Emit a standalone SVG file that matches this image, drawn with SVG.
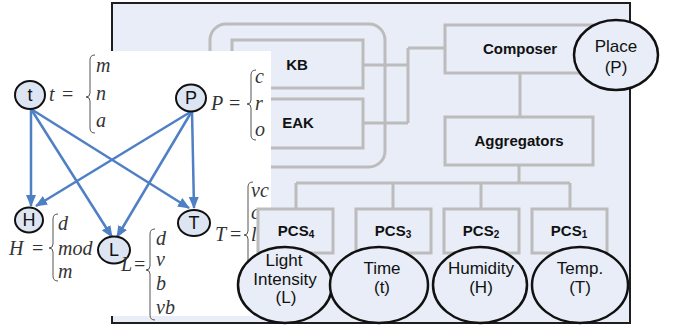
<svg xmlns="http://www.w3.org/2000/svg" width="674" height="328" viewBox="0 0 674 328">
  <defs>
    <marker id="arrow" viewBox="0 0 12 10" refX="11" refY="5" markerWidth="12" markerHeight="10" markerUnits="userSpaceOnUse" orient="auto">
      <path d="M0,0 L12,5 L0,10 z" fill="#4f7fc4"/>
    </marker>
    <style>
      .panel { fill: #e8edf7; stroke: #1e1e1e; stroke-width: 2; }
      .box { fill: #e8edf7; stroke: #bcbcbc; stroke-width: 3; }
      .wire { fill: none; stroke: #bcbcbc; stroke-width: 3; }
      .lbl { font-family: "Liberation Sans", Arial, sans-serif; font-weight: bold; font-size: 15px; fill: #111; text-anchor: middle; }
      .sub { font-size: 10px; }
      .sensor { fill: #e8edf7; stroke: #111; stroke-width: 2.5; }
      .stxt { font-family: "Liberation Sans", Arial, sans-serif; font-size: 17px; fill: #111; text-anchor: middle; }
      .node { fill: #dde5f3; stroke: #111; stroke-width: 2; }
      .ntxt { font-family: "Liberation Sans", Arial, sans-serif; font-size: 18px; fill: #111; text-anchor: middle; }
      .edge { fill: none; stroke: #4f7fc4; stroke-width: 2.5; marker-end: url(#arrow); }
      .math { font-family: "Liberation Serif", "Times New Roman", serif; font-size: 20px; fill: #333; }
      .v { font-style: italic; }
      .brace { fill: none; stroke: #555; stroke-width: 1; }
    </style>
  </defs>

  <!-- architecture panel -->
  <rect class="panel" x="112" y="3" width="518" height="320"/>

  <g id="knowledge-group">
    <rect class="wire" x="210" y="24" width="175" height="143" rx="16"/>
  </g>
  <g id="kb">
    <rect class="box" x="232" y="40" width="131" height="48"/>
    <text class="lbl" x="297" y="70">KB</text>
  </g>
  <g id="eak">
    <rect class="box" x="232" y="99" width="131" height="49"/>
    <text class="lbl" x="298" y="128">EAK</text>
  </g>

  <g id="connectors">
    <path class="wire" d="M363,65 H408 M363,123 H408 M408,48 V123 M408,48 H445"/>
    <path class="wire" d="M520,73 V117"/>
    <path class="wire" d="M519,165 V183 M296,183 H570 M296,183 V209 M393,183 V209 M481,183 V209 M570,183 V209"/>
  </g>

  <g id="composer">
    <rect class="box" x="445" y="25" width="150" height="48"/>
    <text class="lbl" x="520" y="54">Composer</text>
  </g>
  <g id="aggregators">
    <rect class="box" x="445" y="117" width="148" height="48"/>
    <text class="lbl" x="519" y="146">Aggregators</text>
  </g>
  <g id="place">
    <ellipse class="sensor" cx="616" cy="55" rx="42" ry="35"/>
    <text class="stxt" x="616" y="52">Place</text>
    <text class="stxt" x="616" y="73">(P)</text>
  </g>

  <!-- dependency graph sheet -->
  <rect x="0" y="51" width="271" height="265" fill="#ffffff"/>

  <g id="edges">
    <path class="edge" d="M31,109 L31,206"/>
    <path class="edge" d="M31,109 L112,237"/>
    <path class="edge" d="M31,109 L189,208"/>
    <path class="edge" d="M192,111 L36,206"/>
    <path class="edge" d="M192,111 L117,237"/>
    <path class="edge" d="M192,111 L194,208"/>
  </g>

  <g id="node-t">
    <ellipse class="node" cx="30" cy="95" rx="15" ry="14"/>
    <text class="ntxt" x="30" y="101">t</text>
    <text class="math" y="101"><tspan class="v" x="49">t</tspan><tspan x="62">=</tspan></text>
    <path class="brace" d="M95,55 Q90,55 90,60 L90,93 Q90,97 86,97 Q90,97 90,101 L90,128 Q90,133 95,133"/>
    <text class="math v" x="96" y="72">m</text>
    <text class="math v" x="96" y="100">n</text>
    <text class="math v" x="96" y="127">a</text>
  </g>

  <g id="node-P">
    <ellipse class="node" cx="191" cy="98" rx="15" ry="13.5"/>
    <text class="ntxt" x="191" y="104">P</text>
    <text class="math" y="110"><tspan class="v" x="211">P</tspan><tspan x="229">=</tspan></text>
    <path class="brace" d="M256,70 Q251,70 251,75 L251,100 Q251,104 247,104 Q251,104 251,108 L251,135 Q251,140 256,140"/>
    <text class="math v" x="255" y="83">c</text>
    <text class="math v" x="255" y="110">r</text>
    <text class="math v" x="255" y="136">o</text>
  </g>

  <g id="node-H">
    <ellipse class="node" cx="29" cy="220" rx="14" ry="12.5"/>
    <text class="ntxt" x="29" y="226">H</text>
    <text class="math" y="255"><tspan class="v" x="9">H</tspan><tspan x="32">=</tspan></text>
    <path class="brace" d="M58,214 Q53,214 53,219 L53,244 Q53,248 49,248 Q53,248 53,252 L53,276 Q53,281 58,281"/>
    <text class="math v" x="58" y="230">d</text>
    <text class="math v" x="58" y="255">mod</text>
    <text class="math v" x="58" y="278">m</text>
  </g>

  <g id="node-L">
    <ellipse class="node" cx="114" cy="250" rx="16" ry="13.5"/>
    <text class="ntxt" x="114" y="256">L</text>
    <text class="math" y="271"><tspan class="v" x="121">L</tspan><tspan x="134">=</tspan></text>
    <path class="brace" d="M155,229 Q150,229 150,234 L150,266 Q150,270 146,270 Q150,270 150,274 L150,315 Q150,320 155,320"/>
    <text class="math v" x="156" y="245">d</text>
    <text class="math v" x="156" y="266">v</text>
    <text class="math v" x="156" y="290">b</text>
    <text class="math v" x="156" y="314">vb</text>
  </g>

  <g id="node-T">
    <ellipse class="node" cx="194" cy="223" rx="16" ry="13"/>
    <text class="ntxt" x="194" y="229">T</text>
    <text class="math" y="241"><tspan class="v" x="215">T</tspan><tspan x="230">=</tspan></text>
    <path class="brace" d="M253,182 Q248,182 248,187 L248,231 Q248,235 244,235 Q248,235 248,239 L248,280 Q248,285 253,285"/>
    <text class="math v" x="251" y="197">vc</text>
    <text class="math v" x="251" y="219">c</text>
    <text class="math v" x="251" y="241">l</text>
  </g>

  <!-- perception components and their sensors -->
  <g id="pcs4">
    <rect class="box" x="258" y="209" width="75" height="44"/>
    <text class="lbl" x="296" y="236">PCS<tspan class="sub" dy="2">4</tspan></text>
  </g>
  <g id="pcs3">
    <rect class="box" x="356" y="209" width="75" height="44"/>
    <text class="lbl" x="393" y="236">PCS<tspan class="sub" dy="2">3</tspan></text>
  </g>
  <g id="pcs2">
    <rect class="box" x="444" y="209" width="75" height="44"/>
    <text class="lbl" x="481" y="236">PCS<tspan class="sub" dy="2">2</tspan></text>
  </g>
  <g id="pcs1">
    <rect class="box" x="532" y="209" width="75" height="44"/>
    <text class="lbl" x="569" y="236">PCS<tspan class="sub" dy="2">1</tspan></text>
  </g>

  <g id="light">
    <ellipse class="sensor" cx="285" cy="285" rx="47" ry="38"/>
    <text class="stxt" x="284" y="266">Light</text>
    <text class="stxt" x="285" y="284.5">Intensity</text>
    <text class="stxt" x="286" y="303">(L)</text>
  </g>
  <g id="time">
    <ellipse class="sensor" cx="379" cy="285" rx="49" ry="38"/>
    <text class="stxt" x="382" y="274">Time</text>
    <text class="stxt" x="382" y="293">(t)</text>
  </g>
  <g id="humidity">
    <ellipse class="sensor" cx="480" cy="285" rx="47" ry="38"/>
    <text class="stxt" x="481" y="274">Humidity</text>
    <text class="stxt" x="481" y="293">(H)</text>
  </g>
  <g id="temp">
    <ellipse class="sensor" cx="580" cy="285" rx="48" ry="38"/>
    <text class="stxt" x="580" y="274">Temp.</text>
    <text class="stxt" x="580" y="293">(T)</text>
  </g>
</svg>
